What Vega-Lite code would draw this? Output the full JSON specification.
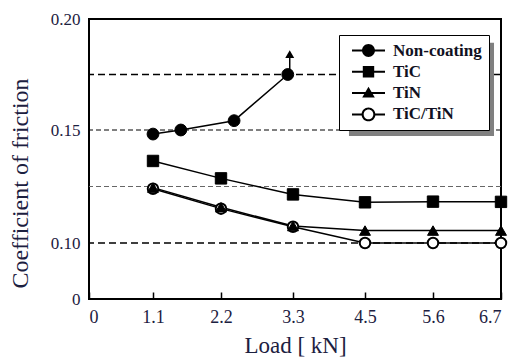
{
  "$schema": "https://vega.github.io/schema/vega-lite/v6.json",
  "autosize": "none",
  "width": 412,
  "height": 280,
  "padding": {"left": 89, "top": 19, "right": 14, "bottom": 63},
  "background": "white",
  "config": {
    "view": {"stroke": "black", "strokeWidth": 2},
    "font": "'Liberation Serif', 'Times New Roman', serif"
  },
  "datasets": {
    "friction": [
      {"series": "Non-coating", "load": 1.1, "cof": 0.1482},
      {"series": "Non-coating", "load": 1.55, "cof": 0.1500},
      {"series": "Non-coating", "load": 2.4, "cof": 0.1542},
      {"series": "Non-coating", "load": 3.22, "cof": 0.1750},
      {"series": "TiC", "load": 1.1, "cof": 0.1363},
      {"series": "TiC", "load": 2.2, "cof": 0.1286},
      {"series": "TiC", "load": 3.3, "cof": 0.1215},
      {"series": "TiC", "load": 4.5, "cof": 0.1180},
      {"series": "TiC", "load": 5.6, "cof": 0.1183},
      {"series": "TiC", "load": 6.7, "cof": 0.1182},
      {"series": "TiC/TiN", "load": 1.1, "cof": 0.1240},
      {"series": "TiC/TiN", "load": 2.2, "cof": 0.1152},
      {"series": "TiC/TiN", "load": 3.3, "cof": 0.1072},
      {"series": "TiC/TiN", "load": 4.5, "cof": 0.1000},
      {"series": "TiC/TiN", "load": 5.6, "cof": 0.1000},
      {"series": "TiC/TiN", "load": 6.7, "cof": 0.1000},
      {"series": "TiN", "load": 1.1, "cof": 0.1245},
      {"series": "TiN", "load": 2.2, "cof": 0.1158},
      {"series": "TiN", "load": 3.3, "cof": 0.1075},
      {"series": "TiN", "load": 4.5, "cof": 0.1055},
      {"series": "TiN", "load": 5.6, "cof": 0.1055},
      {"series": "TiN", "load": 6.7, "cof": 0.1055}
    ],
    "arrow": [
      {"load": 3.25, "from": 0.1760, "to": 0.1840}
    ],
    "one": [{}]
  },
  "layer": [
    {
      "data": {"name": "one"},
      "mark": {"type": "rule", "stroke": "#666666", "strokeWidth": 1, "strokeDash": [5, 3]},
      "encoding": {
        "y": {
          "datum": 0.125,
          "type": "quantitative",
          "scale": {"type": "linear", "domain": [0, 0.1, 0.15, 0.2], "range": [280, 224, 111, 0], "nice": false, "zero": false},
          "axis": {
            "values": [0, 0.1, 0.15, 0.2],
            "labelExpr": "datum.value == 0 ? '0' : format(datum.value, '.2f')",
            "ticks": false,
            "domain": false,
            "grid": false,
            "labelFont": "'Liberation Serif', 'Times New Roman', serif",
            "labelFontSize": 17,
            "labelColor": "#1c2040",
            "labelPadding": 9,
            "title": "Coefficient of  friction",
            "titleFont": "'Liberation Serif', 'Times New Roman', serif",
            "titleFontSize": 24,
            "titleFontWeight": "normal",
            "titleColor": "#1c2040",
            "titleY": 164,
            "titlePadding": 18
          }
        }
      }
    },
    {
      "data": {"name": "one"},
      "mark": {"type": "rule", "stroke": "black", "strokeWidth": 1, "strokeDash": [5, 3]},
      "encoding": {"y": {"datum": 0.15, "type": "quantitative"}}
    },
    {
      "data": {"name": "one"},
      "mark": {"type": "rule", "stroke": "black", "strokeWidth": 1.5, "strokeDash": [7, 4]},
      "encoding": {"y": {"datum": 0.175, "type": "quantitative"}}
    },
    {
      "data": {"name": "one"},
      "mark": {"type": "rule", "stroke": "black", "strokeWidth": 1.5, "strokeDash": [7, 4]},
      "encoding": {"y": {"datum": 0.1, "type": "quantitative"}}
    },
    {
      "data": {"name": "one"},
      "mark": {"type": "rect", "fill": "#808080"},
      "encoding": {
        "x": {"datum": 4.233, "type": "quantitative"},
        "x2": {"datum": 6.587},
        "y": {"datum": 0.1893, "type": "quantitative"},
        "y2": {"datum": 0.1473}
      }
    },
    {
      "data": {"name": "friction"},
      "mark": {"type": "line", "stroke": "black", "strokeWidth": 1.5},
      "encoding": {
        "x": {
          "field": "load",
          "type": "quantitative",
          "scale": {"type": "linear", "domain": [0, 1.1, 2.2, 3.3, 4.5, 5.6, 6.7], "range": [0, 64, 132, 204, 276, 344, 412], "nice": false, "zero": false},
          "axis": {
            "values": [0, 1.1, 2.2, 3.3, 4.5, 5.6, 6.7],
            "labelExpr": "datum.value == 0 ? '0' : format(datum.value, '.1f')",
            "ticks": true,
            "tickSize": -7,
            "tickColor": "black",
            "tickWidth": 1.5,
            "domain": false,
            "grid": false,
            "labelFont": "'Liberation Serif', 'Times New Roman', serif",
            "labelFontSize": 18,
            "labelColor": "#1c2040",
            "labelPadding": 16,
            "title": "Load [ kN]",
            "titleFont": "'Liberation Serif', 'Times New Roman', serif",
            "titleFontSize": 23,
            "titleFontWeight": "normal",
            "titleColor": "#1c2040",
            "titlePadding": 8
          }
        },
        "y": {"field": "cof", "type": "quantitative"},
        "detail": {"field": "series", "type": "nominal"}
      }
    },
    {
      "data": {"name": "arrow"},
      "mark": {"type": "rule", "stroke": "black", "strokeWidth": 1.5},
      "encoding": {
        "x": {"field": "load", "type": "quantitative"},
        "y": {"field": "from", "type": "quantitative"},
        "y2": {"field": "to"}
      }
    },
    {
      "data": {"name": "arrow"},
      "mark": {"type": "point", "shape": "triangle-up", "filled": true, "fill": "black", "stroke": "black", "size": 30, "opacity": 1},
      "encoding": {
        "x": {"field": "load", "type": "quantitative"},
        "y": {"field": "to", "type": "quantitative"}
      }
    },
    {
      "data": {"name": "friction"},
      "transform": [{"filter": "datum.series == 'TiC/TiN'"}],
      "mark": {"type": "point", "shape": "circle", "fill": "white", "stroke": "black", "strokeWidth": 2, "size": 110, "opacity": 1},
      "encoding": {
        "x": {"field": "load", "type": "quantitative"},
        "y": {"field": "cof", "type": "quantitative"}
      }
    },
    {
      "data": {"name": "friction"},
      "transform": [{"filter": "datum.series == 'TiN'"}],
      "mark": {"type": "point", "shape": "triangle-up", "filled": true, "fill": "black", "stroke": "black", "strokeWidth": 1, "size": 120, "opacity": 1},
      "encoding": {
        "x": {"field": "load", "type": "quantitative"},
        "y": {"field": "cof", "type": "quantitative"}
      }
    },
    {
      "data": {"name": "friction"},
      "transform": [{"filter": "datum.series == 'TiC'"}],
      "mark": {"type": "point", "shape": "square", "filled": true, "fill": "black", "stroke": "black", "strokeWidth": 1, "size": 130, "opacity": 1},
      "encoding": {
        "x": {"field": "load", "type": "quantitative"},
        "y": {"field": "cof", "type": "quantitative"}
      }
    },
    {
      "data": {"name": "friction"},
      "transform": [{"filter": "datum.series == 'Non-coating'"}],
      "mark": {"type": "point", "shape": "circle", "filled": true, "fill": "black", "stroke": "black", "strokeWidth": 1, "size": 140, "opacity": 1},
      "encoding": {
        "x": {"field": "load", "type": "quantitative"},
        "y": {"field": "cof", "type": "quantitative"}
      }
    },
    {
      "data": {"name": "friction"},
      "transform": [{"filter": "false"}],
      "mark": {"type": "point", "filled": true, "fill": "black", "strokeWidth": 0, "opacity": 1, "size": 144},
      "encoding": {
        "x": {"field": "load", "type": "quantitative"},
        "y": {"field": "cof", "type": "quantitative"},
        "shape": {
          "field": "series",
          "type": "nominal",
          "scale": {
            "domain": ["Non-coating", "TiC", "TiN", "TiC/TiN"],
            "range": [
              "M-2.75,-0.17H2.75V0.17H-2.75Z M1.08,0A1.08,1.08 0 1,1 -1.08,0A1.08,1.08 0 1,1 1.08,0Z",
              "M-2.75,-0.17H2.75V0.17H-2.75Z M-0.95,-0.95H0.95V0.95H-0.95Z",
              "M-2.75,-0.17H2.75V0.17H-2.75Z M0,-1.05L1.05,0.75H-1.05Z",
              "M-2.75,-0.17H-1.1V0.17H-2.75Z M1.1,-0.17H2.75V0.17H1.1Z M1.15,0A1.15,1.15 0 1,1 -1.15,0A1.15,1.15 0 1,1 1.15,0Z M0.8,0A0.8,0.8 0 1,0 -0.8,0A0.8,0.8 0 1,0 0.8,0Z"
            ]
          },
          "legend": {
            "title": null,
            "orient": "none",
            "legendX": 250,
            "legendY": 16,
            "fillColor": "white",
            "strokeColor": "black",
            "padding": 7,
            "symbolSize": 144,
            "symbolFillColor": "black",
            "symbolStrokeWidth": 0,
            "symbolOffset": 14,
            "labelOffset": 16,
            "labelFont": "'Liberation Serif', 'Times New Roman', serif",
            "labelFontWeight": "bold",
            "labelFontSize": 17,
            "labelColor": "#111122",
            "rowPadding": 3.3,
            "encode": {
              "legend": {"update": {"strokeWidth": {"value": 1.5}}},
              "symbols": {"update": {"fill": {"value": "black"}, "strokeWidth": {"value": 0}}}
            }
          }
        }
      }
    }
  ]
}
